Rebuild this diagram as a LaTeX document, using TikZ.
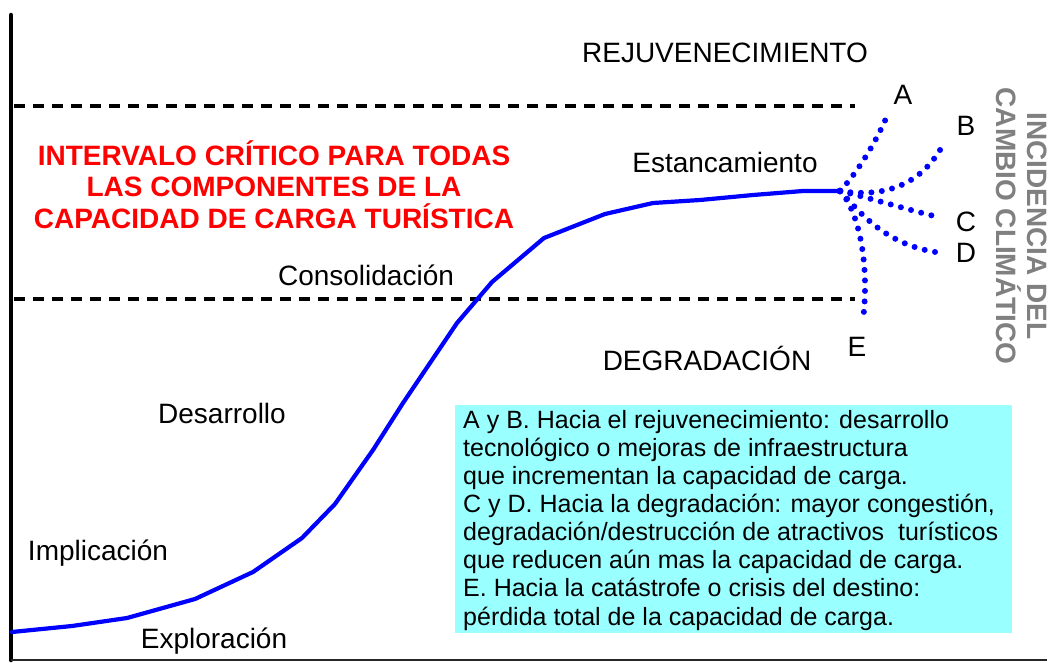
\documentclass[tikz,border=0pt]{standalone}
\usepackage{fontspec}
\setmainfont{Liberation Sans}
\definecolor{boxcyan}{RGB}{153,255,255}
\definecolor{critred}{RGB}{255,0,0}
\definecolor{ccgray}{RGB}{128,128,128}
\begin{document}
\begin{tikzpicture}[x=1pt,y=-1pt,
  lbl/.style={font=\fontsize{28}{31}\selectfont, anchor=base, inner sep=0pt},
  crit/.style={dash pattern=on 10.5pt off 8.5pt, line width=3.5pt},
  lifecurve/.style={blue, line width=4.2pt, line join=round, line cap=round},
  branch/.style={blue, line width=6pt, line cap=round, dash pattern=on 0pt off 10.5pt},
]
\useasboundingbox (0,0) rectangle (1050,662);
% axes
\coordinate (yt) at (11,15);
\coordinate (o) at (11,660);
\coordinate (xe) at (1047,660);
\draw[line width=4.5pt, line cap=round] (yt) -- (o);
\draw[line width=2pt, black!85] (o) -- (xe);
% critical interval lines
\coordinate (u1) at (14,106); \coordinate (u2) at (855,106);
\coordinate (l1) at (14,299); \coordinate (l2) at (855,299);
\draw[crit] (u1) -- (u2);
\draw[crit] (l1) -- (l2);
% life cycle curve
\coordinate (j) at (840,191);
\draw[lifecurve] (12,632) -- (72,626) -- (127,618) -- (195,599) -- (253,572) -- (302,538) -- (335,504) -- (373,450) -- (403,403) -- (457,323) -- (492,282) -- (544,238) -- (605,214) -- (653,203) -- (700,200) -- (753,195) -- (803,191) -- (j);
\fill[blue] (j) circle (3.5pt);
% branches
\coordinate (ea) at (887,116);
\coordinate (eb) at (944,143);
\coordinate (ec) at (938,217);
\coordinate (ed) at (942,253);
\coordinate (ee) at (863,320);
\draw[branch] (j) .. controls (858,172) and (877,140) .. (ea);
\draw[branch] (j) .. controls (885,198) and (922,185) .. (eb);
\draw[branch] (j) .. controls (870,198) and (905,209) .. (ec);
\draw[branch] (j) .. controls (860,212) and (885,246) .. (ed);
\draw[branch] (j) .. controls (858,210) and (870,262) .. (ee);
% labels
\node[lbl] (rej) at (725,62) {REJUVENECIMIENTO};
\node[lbl] (est) at (725,172) {Estancamiento};
\node[lbl] (con) at (366,285) {Consolidación};
\node[lbl] (deg) at (707,370) {DEGRADACIÓN};
\node[lbl] (des) at (222,423) {Desarrollo};
\node[lbl] (imp) at (98,560) {Implicación};
\node[lbl] (exp) at (214,648) {Exploración};
\node[lbl] (la) at (903,104) {A};
\node[lbl] (lb) at (966,135) {B};
\node[lbl] (lc) at (966,231) {C};
\node[lbl] (ld) at (966,262) {D};
\node[lbl] (le) at (857,356) {E};
% red text
\node (crit) [text=critred, align=center, inner sep=0pt,
  font=\fontsize{28}{31.5}\selectfont\bfseries] at (274,184.5)
  {INTERVALO CRÍTICO PARA TODAS\\LAS COMPONENTES DE LA\\CAPACIDAD DE CARGA TURÍSTICA};
% vertical gray text
\node (icc) [text=ccgray, align=center, inner sep=0pt, rotate=-90,
  font=\fontsize{28}{31}\selectfont\bfseries] at (1022,226)
  {INCIDENCIA DEL\\CAMBIO CLIMÁTICO};
% explanation box
\node (box) [fill=boxcyan, minimum width=557pt, minimum height=228pt, inner sep=0pt, anchor=north west] at (455,405) {};
\node (boxtext) [anchor=north west, align=left, inner sep=0pt,
  font=\fontsize{25}{28.1}\selectfont] at (463,410)
  {A y B. Hacia el rejuvenecimiento: desarrollo\\
   tecnológico o mejoras de infraestructura\\
   que incrementan la capacidad de carga.\\
   C y D. Hacia la degradación: mayor congestión,\\
   degradación/destrucción de atractivos\ \ turísticos\\
   que reducen aún mas la capacidad de carga.\\
   E. Hacia la catástrofe o crisis del destino:\\
   pérdida total de la capacidad de carga.};
\end{tikzpicture}
\end{document}
